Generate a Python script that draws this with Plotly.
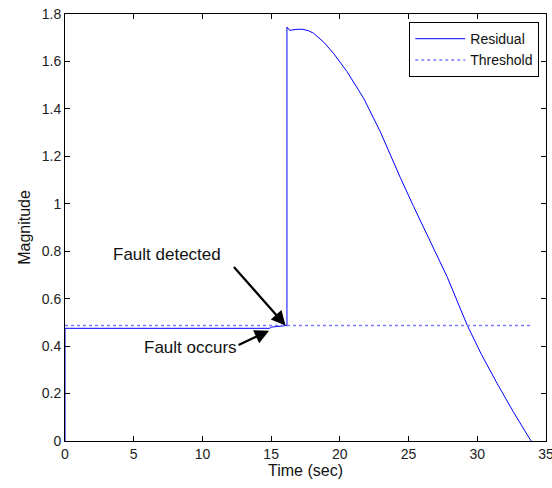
import plotly.graph_objects as go

# Data
res_t = [0.0, 0.0, 0.3, 5.0, 10.0, 14.9, 15.0, 15.6, 16.15, 16.15, 16.35, 16.8, 17.24, 17.7, 18.08,
         18.8, 19.54, 20.52, 21.73, 22.94, 23.55, 24.4, 25.37, 26.6, 27.8, 29.26, 30.3, 31.44,
         32.6, 33.87, 33.94]
res_v = [0.0, 0.475, 0.475, 0.475, 0.475, 0.475, 0.48, 0.483, 0.487, 1.745, 1.731, 1.735, 1.736,
         1.730, 1.719, 1.683, 1.634, 1.557, 1.445, 1.304, 1.220, 1.110, 0.988, 0.842, 0.693,
         0.489, 0.365, 0.243, 0.125, 0.004, 0.0]
thr_t = [0.0, 34.0]
thr_v = [0.487, 0.487]

x_ticks = [0, 5, 10, 15, 20, 25, 30, 35]
y_ticks = [0, 0.2, 0.4, 0.6, 0.8, 1.0, 1.2, 1.4, 1.6, 1.8]
y_tick_text = ["0", "0.2", "0.4", "0.6", "0.8", "1", "1.2", "1.4", "1.6", "1.8"]

FONT = "Liberation Sans, Arial, sans-serif"

fig = go.Figure()
fig.add_trace(go.Scatter(x=res_t, y=res_v, mode="lines", name="Residual",
                         line=dict(color="#0000ff", width=1)))
fig.add_trace(go.Scatter(x=thr_t, y=thr_v, mode="lines", name="Threshold",
                         line=dict(color="#7a7aff", width=1.5, dash="dot")))

axis_common = dict(showline=True, linecolor="black", linewidth=1, mirror="ticks",
                   ticks="inside", ticklen=5, tickcolor="black", showgrid=False,
                   zeroline=False, tickfont=dict(family=FONT, size=14, color="#222"),
                   ticklabeloverflow="allow", automargin=False)

fig.update_xaxes(range=[0, 35], tickvals=x_ticks,
                 title=dict(text="Time (sec)", font=dict(family=FONT, size=16, color="#111"), standoff=2),
                 **axis_common)
fig.update_yaxes(range=[0, 1.8], tickvals=y_ticks, ticktext=y_tick_text,
                 title=dict(text="Magnitude", font=dict(family=FONT, size=16, color="#111"), standoff=7),
                 **axis_common)

# Annotations: text and arrows separately
fig.add_annotation(x=16.05, y=0.487, ax=-53, ay=-60, text="", showarrow=True,
                   arrowhead=2, arrowsize=1.3, arrowwidth=2.2, arrowcolor="black")
fig.add_annotation(x=14.85, y=0.465, ax=-32, ay=15, text="", showarrow=True,
                   arrowhead=2, arrowsize=1.3, arrowwidth=2.2, arrowcolor="black")
fig.add_annotation(x=7.4, y=0.787, text="Fault detected", showarrow=False,
                   font=dict(family=FONT, size=17, color="#111"))
fig.add_annotation(x=9.1, y=0.393, text="Fault occurs", showarrow=False,
                   font=dict(family=FONT, size=17, color="#111"))

fig.update_layout(
    width=552, height=488,
    margin=dict(l=65, r=6, t=14, b=47),
    plot_bgcolor="white", paper_bgcolor="white",
    legend=dict(x=0.986, y=0.981, xanchor="right", yanchor="top",
                bordercolor="black", borderwidth=1, bgcolor="white",
                font=dict(family=FONT, size=14, color="#111"),
                tracegroupgap=0, itemwidth=50),
    showlegend=True,
)

fig.write_html("out.html")
